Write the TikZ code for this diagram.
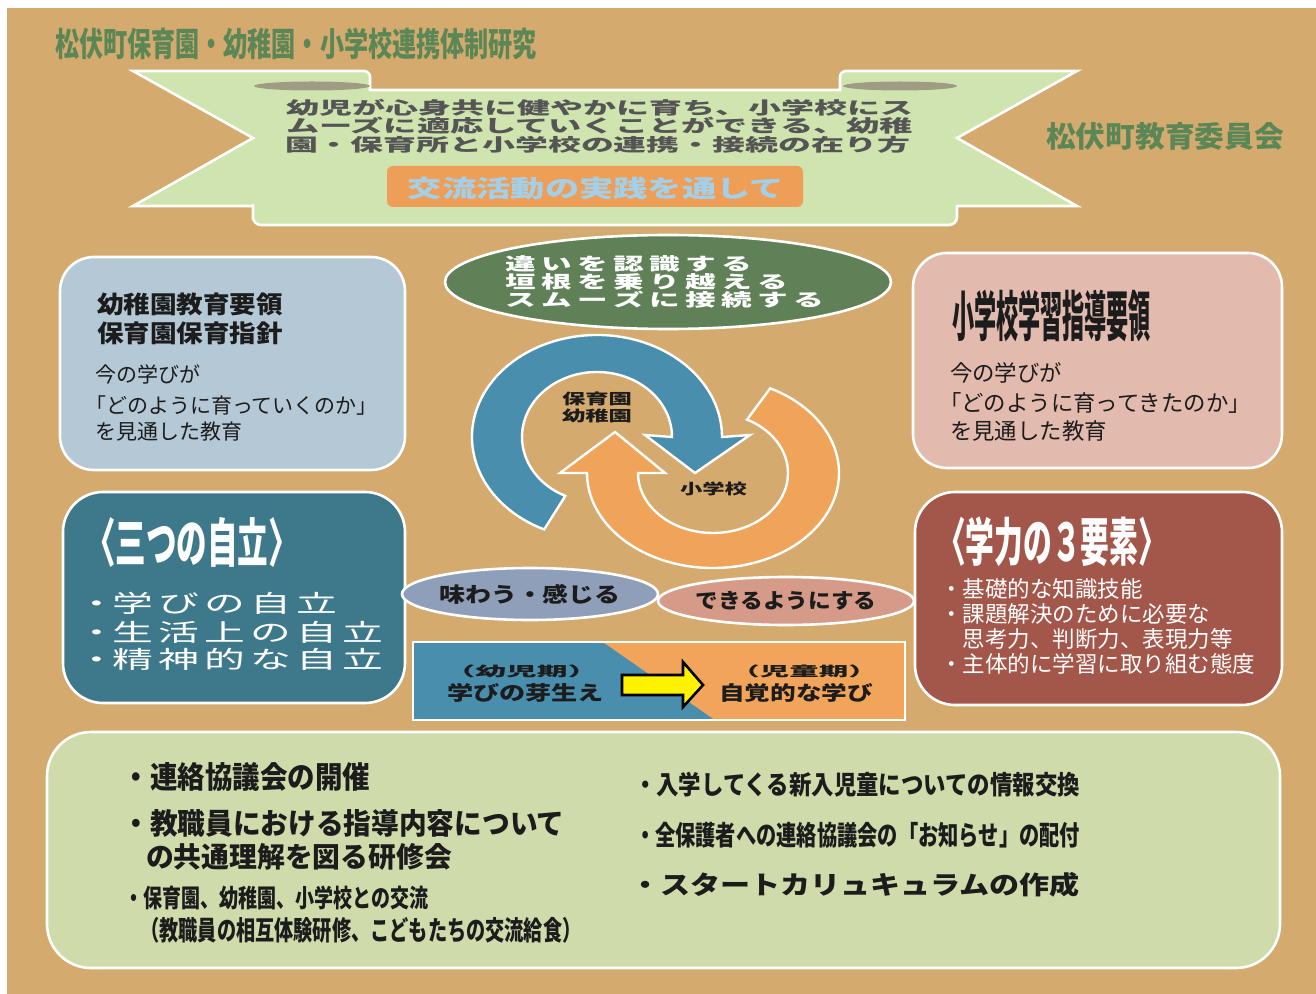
\documentclass[tikz,border=0pt]{standalone}
\usepackage{fontspec}
\setmainfont{Noto Sans CJK JP}
\usepackage{graphicx}
\usetikzlibrary{shapes.geometric}
\newdimen\pxl \pxl=0.5pt
\newcommand\fs[1]{\fontsize{#1\pxl}{#1\pxl}\selectfont}
\newcommand\fitbox[3]{\resizebox*{#1\pxl}{#2\pxl}{#3}}
\makeatletter
\newcommand\stx[3]{\begingroup\def\stx@sx{#1}\def\stx@w{#2}\stx@loop#3\relax\endgroup}
\def\stx@loop#1{\ifx\relax#1\else\makebox[\stx@w][l]{\scalebox{\stx@sx}[1]{#1}}\expandafter\stx@loop\fi}
\makeatother
\definecolor{bgc}{HTML}{D5AA6E}
\definecolor{titlec}{HTML}{5B8757}
\definecolor{bannerc}{HTML}{D0E4B0}
\definecolor{foldc}{HTML}{A09B83}
\definecolor{bantext}{HTML}{555555}
\definecolor{pillc}{HTML}{EE9E57}
\definecolor{pilltxt}{HTML}{A3D0E8}
\definecolor{ovalg}{HTML}{608158}
\definecolor{bluea}{HTML}{4A8EAD}
\definecolor{orangea}{HTML}{F0A45A}
\definecolor{box1c}{HTML}{B4C8D6}
\definecolor{box2c}{HTML}{3E798B}
\definecolor{box3c}{HTML}{E2BAAE}
\definecolor{box4c}{HTML}{A3574A}
\definecolor{ovalgray}{HTML}{8F9EB9}
\definecolor{ovalsalmon}{HTML}{D69B88}
\definecolor{transb}{HTML}{4A8EAE}
\definecolor{transo}{HTML}{F2A55A}
\definecolor{arrowy}{HTML}{FFF200}
\definecolor{bottomc}{HTML}{D0DBAB}
\definecolor{darkt}{HTML}{1C1C1C}
\begin{document}
\begin{tikzpicture}[x=0.5pt,y=-0.5pt,
  txttl/.style={anchor=north west,inner sep=0pt,outer sep=0pt},
  txtlm/.style={anchor=west,inner sep=0pt,outer sep=0pt},
  txtc/.style={anchor=center,inner sep=0pt,outer sep=0pt},
  panel/.style={draw=white,line width=1.3pt,inner sep=0pt},
  oval/.style={ellipse,draw=white,line width=1.3pt,inner sep=0pt},
  ring/.style={draw=white,line width=1.2pt,line join=miter}]
\useasboundingbox (0,0) rectangle (1316,994);
\fill[white] (0,0) rectangle (1316,994);
\fill[bgc] (7,8) rectangle (1316,994);

% titles
\node[txttl,text=titlec] (title) at (55,28) {\fitbox{482}{32}{\bfseries 松伏町保育園・幼稚園・小学校連携体制研究}};
\node[txttl,text=titlec] (board) at (1046,122) {\fitbox{238}{28}{\bfseries 松伏町教育委員会}};

% banner
\filldraw[fill=bannerc,draw=white,line width=1.3pt]
  (133,71) -- (352,71) [rounded corners=3pt] -- (370,71) -- (370,84) [sharp corners] -- (370,90)
  -- (840,90) -- (840,84) [rounded corners=3pt] -- (840,71) -- (858,71) [sharp corners] -- (1077,71)
  -- (957,138) -- (1077,206) -- (957,206) -- (957,212) [rounded corners=4pt] -- (957,225)
  -- (253,225) -- (253,212) [sharp corners] -- (253,206) -- (133,206) -- (253,138) -- cycle;
\fill[foldc] (312,86) ellipse [x radius=58,y radius=4.5];
\fill[foldc] (900,86) ellipse [x radius=57,y radius=4.5];
\node[txttl,text=bantext] (goal1) at (286,99) {\fitbox{627}{17}{\bfseries 幼児が心身共に健やかに育ち、小学校にス}};
\node[txttl,text=bantext] (goal2) at (286,117) {\fitbox{627}{17}{\bfseries ムーズに適応していくことができる、幼稚}};
\node[txttl,text=bantext] (goal3) at (285,136) {\fitbox{625}{17}{\bfseries 園・保育所と小学校の連携・接続の在り方}};
\node[fill=pillc,rounded corners=3pt,minimum width=416\pxl,minimum height=41\pxl,inner sep=0pt] (pill) at (595,186.5) {};
\node[txtc,text=pilltxt] (pilltext) at (596,188.5) {\fitbox{376}{23}{\bfseries 交流活動の実践を通して}};

% green oval
\node[oval,fill=ovalg,minimum width=446\pxl,minimum height=94\pxl] (aim) at (668,282) {};
\node[txtlm,text=white] (aim1) at (505,264) {\fs{17.5}\bfseries\stx{1.75}{36\pxl}{違いを認識する}};
\node[txtlm,text=white] (aim2) at (505,282) {\fs{17.5}\bfseries\stx{1.75}{36\pxl}{垣根を乗り越える}};
\node[txtlm,text=white] (aim3) at (505,300) {\fs{17.5}\bfseries\stx{1.75}{36\pxl}{スムーズに接続する}};

% circular arrows
\filldraw[ring,fill=bluea] ([shift={(597,437)}]115:125 and 102)
  arc[start angle=115,end angle=360,x radius=125,y radius=102]
  -- (750,435) -- (695,473) -- (645,435) -- ([shift={(597,437)}]0:75 and 65)
  arc[start angle=360,end angle=115,x radius=75,y radius=65] -- cycle;
\filldraw[ring,fill=orangea] ([shift={(713,473)}]297:126 and 95)
  arc[start angle=297,end angle=540,x radius=126,y radius=95]
  -- (560,473) -- (615,432) -- (665,473) -- ([shift={(713,473)}]180:75 and 60)
  arc[start angle=540,end angle=297,x radius=75,y radius=60] -- cycle;
\node[txttl,text=darkt] (kinder1) at (562,392) {\fitbox{70}{14}{\bfseries 保育園}};
\node[txttl,text=darkt] (kinder2) at (562,409) {\fitbox{70}{14}{\bfseries 幼稚園}};
\node[txttl,text=darkt] (school) at (680,482) {\fitbox{67}{14}{\bfseries 小学校}};

% box 1
\node[panel,fill=box1c,rounded corners=17pt,minimum width=345\pxl,minimum height=213\pxl] (pre) at (232.5,363.5) {};
\node[txttl,text=darkt] (pre1) at (97,293) {\fitbox{186}{23}{\bfseries 幼稚園教育要領}};
\node[txttl,text=darkt] (pre2) at (97,322) {\fitbox{186}{23}{\bfseries 保育園保育指針}};
\node[txtlm,text=darkt] (pre3) at (95,375) {\fs{21}今の学びが};
\node[txtlm,text=darkt] (pre4) at (85,406) {\fs{21}「どのように育っていくのか」};
\node[txtlm,text=darkt] (pre5) at (95,432) {\fs{21}を見通した教育};

% box 2
\node[panel,fill=box2c,rounded corners=20pt,minimum width=342\pxl,minimum height=211\pxl] (indep) at (234,597.5) {};
\node[txttl,text=white] (three) at (85,517) {\fitbox{214}{50}{\bfseries 〈三つの自立〉}};
\node[txtlm,text=white] (th1) at (76,603) {\fs{24}\makebox[36\pxl][l]{\scalebox{1.7}[1]{・}}\stx{1.7}{46\pxl}{学びの自立}};
\node[txtlm,text=white] (th2) at (76,632) {\fs{24}\makebox[36\pxl][l]{\scalebox{1.7}[1]{・}}\stx{1.7}{46\pxl}{生活上の自立}};
\node[txtlm,text=white] (th3) at (76,659) {\fs{24}\makebox[36\pxl][l]{\scalebox{1.7}[1]{・}}\stx{1.7}{46\pxl}{精神的な自立}};

% box 3
\node[panel,fill=box3c,rounded corners=17pt,minimum width=369\pxl,minimum height=215\pxl] (ele) at (1097.5,360.5) {};
\node[txttl,text=darkt] (ele1) at (952,290) {\fitbox{199}{52}{\bfseries 小学校学習指導要領}};
\node[txtlm,text=darkt] (ele2) at (950,373) {\fs{22.4}今の学びが};
\node[txtlm,text=darkt] (ele3) at (939,403) {\fs{22.4}「どのように育ってきたのか」};
\node[txtlm,text=darkt] (ele4) at (950,431) {\fs{22.4}を見通した教育};

% box 4
\node[panel,fill=box4c,rounded corners=20pt,minimum width=367\pxl,minimum height=213\pxl] (abil) at (1098.5,598.5) {};
\node[txttl,text=white] (four) at (937,517) {\fitbox{230}{50}{\bfseries 〈学力の３要素〉}};
\node[txtlm,text=white] (f1) at (940,589) {\fs{22.5}・基礎的な知識技能};
\node[txtlm,text=white] (f2) at (940,614) {\fs{22.5}・課題解決のために必要な};
\node[txtlm,text=white] (f3) at (940,639) {\fs{22.5}　思考力、判断力、表現力等};
\node[txtlm,text=white] (f4) at (940,664) {\fs{22.5}・主体的に学習に取り組む態度};

% small ovals
\node[oval,fill=ovalgray,minimum width=220\pxl,minimum height=52\pxl,text=darkt] (taste) at (530,594) {\fitbox{181}{20}{\bfseries 味わう・感じる}};
\node[oval,fill=ovalsalmon,minimum width=222\pxl,minimum height=48\pxl,text=darkt] (able) at (786,601) {\fitbox{181}{19}{\bfseries できるようにする}};

% transition band
\fill[transb] (413,642) -- (603,642) -- (715,720) -- (413,720) -- cycle;
\fill[transo] (603,642) -- (905,642) -- (905,720) -- (715,720) -- cycle;
\node[draw=white,line width=1.3pt,inner sep=0pt,minimum width=492\pxl,minimum height=78\pxl] (growth) at (659,681) {};
\filldraw[fill=arrowy,draw=black,line width=1.3pt,line join=miter] (622,675) -- (683,675) -- (683,662) -- (703,685) -- (683,707) -- (683,695) -- (622,695) -- cycle;
\node[txtc,text=darkt] (infant) at (521.5,671) {\fitbox{154}{13}{\bfseries （幼児期）}};
\node[txtc,text=darkt] (sprout) at (525.5,692.5) {\fitbox{157}{19}{\bfseries 学びの芽生え}};
\node[txtc,text=darkt] (child) at (804,671) {\fitbox{147.5}{13}{\bfseries （児童期）}};
\node[txtc,text=darkt] (aware) at (796,692.5) {\fitbox{154}{19}{\bfseries 自覚的な学び}};

% bottom box
\node[panel,fill=bottomc,rounded corners=22pt,minimum width=1233\pxl,minimum height=236\pxl] (acts) at (663.5,850) {};
\node[txttl,text=darkt] (bl1) at (122.5,763) {\fitbox{247.5}{29}{\bfseries ・連絡協議会の開催}};
\node[txttl,text=darkt] (bl2) at (122.5,809) {\fitbox{442}{28}{\bfseries ・教職員における指導内容について}};
\node[txttl,text=darkt] (bl3) at (146,843) {\fitbox{306}{27}{\bfseries の共通理解を図る研修会}};
\node[txttl,text=darkt] (bl4) at (124.5,886) {\fitbox{304}{24}{\bfseries ・保育園、幼稚園、小学校との交流}};
\node[txttl,text=darkt] (bl5) at (140.4,917) {\fitbox{441}{26}{\bfseries （教職員の相互体験研修、こどもたちの交流給食）}};
\node[txttl,text=darkt] (br1) at (634,772) {\fitbox{446}{25}{\bfseries ・入学してくる新入児童についての情報交換}};
\node[txttl,text=darkt] (br2) at (635,822) {\fitbox{445}{26}{\bfseries ・全保護者への連絡協議会の「お知らせ」の配付}};
\node[txttl,text=darkt] (br3) at (630,872) {\fitbox{450}{25}{\bfseries ・スタートカリュキュラムの作成}};
\end{tikzpicture}
\end{document}
